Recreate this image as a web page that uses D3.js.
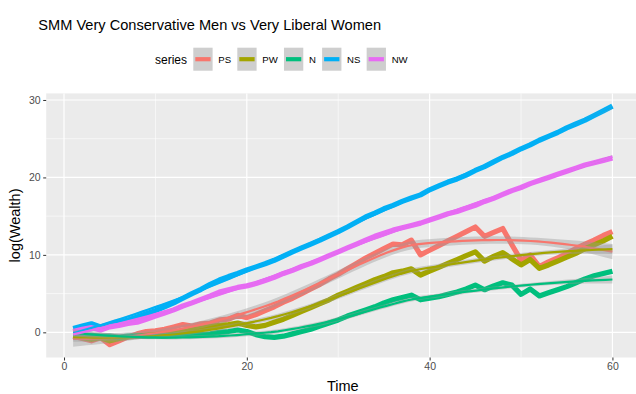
<!DOCTYPE html>
<html>
<head>
<meta charset="utf-8">
<script src="https://cdn.jsdelivr.net/npm/d3@7/dist/d3.min.js"></script>
<style>
  body { margin: 0; background: #ffffff; }
  svg { display: block; }
  text { font-family: "Liberation Sans", Arial, Helvetica, sans-serif; }
</style>
</head>
<body>
<svg id="chart" width="636" height="394"></svg>
<script>
// ---- data -------------------------------------------------------------
const time = d3.range(1, 61);
const seriesNames  = ["PS", "PW", "N", "NS", "NW"];
const seriesColors = ["#F8766D", "#A3A500", "#00BF7D", "#00B0F6", "#E76BF3"];

const PS = [-0.5, -0.8, -1.1, -0.7, -1.6, -1.1, -0.6, -0.2, 0.1, 0.2,
            0.4, 0.7, 1.0, 0.8, 1.1, 1.2, 1.6, 1.7, 2.2, 1.9,
            2.3, 2.8, 3.3, 3.9, 4.4, 5.0, 5.6, 6.2, 6.9, 7.5,
            8.2, 8.9, 9.6, 10.2, 10.8, 11.4, 11.3, 11.9, 10.0, 10.6,
            11.2, 11.8, 12.4, 13.0, 13.6, 12.4, 12.9, 13.4, 11.3, 9.3,
            10.0, 8.5, 9.1, 9.6, 10.2, 10.8, 11.4, 11.9, 12.5, 13.0];

const PW = [-0.6, -0.7, -0.9, -0.7, -1.1, -0.8, -0.6, -0.5, -0.4, -0.3,
            -0.2, -0.1, 0.1, 0.3, 0.5, 0.7, 0.9, 1.0, 1.2, 0.9,
            0.7, 0.9, 1.3, 1.7, 2.2, 2.7, 3.2, 3.7, 4.2, 4.8,
            5.3, 5.8, 6.3, 6.8, 7.2, 7.7, 7.9, 8.2, 7.4, 7.9,
            8.4, 8.9, 9.4, 9.9, 10.4, 9.2, 9.8, 10.3, 9.5, 8.7,
            9.4, 8.25, 8.7, 9.2, 9.7, 10.2, 10.8, 11.3, 11.8, 12.4];

const N  = [-0.3, -0.4, -0.4, -0.5, -0.5, -0.6, -0.5, -0.5, -0.5, -0.5,
            -0.5, -0.4, -0.4, -0.3, -0.3, -0.2, 0.0, 0.1, 0.3, 0.1,
            -0.3, -0.55, -0.65, -0.5, -0.2, 0.1, 0.4, 0.8, 1.2, 1.6,
            2.1, 2.5, 2.9, 3.3, 3.8, 4.2, 4.5, 4.8, 4.2, 4.4,
            4.6, 4.9, 5.2, 5.6, 6.1, 5.5, 6.0, 6.4, 6.1, 4.9,
            5.6, 4.7, 5.1, 5.5, 5.9, 6.4, 6.9, 7.3, 7.6, 7.9];

const NS = [0.5, 0.8, 1.1, 0.7, 1.0, 1.3, 1.6, 2.0, 2.4, 2.8,
            3.3, 3.8, 4.4, 5.0, 5.55, 6.2, 6.75, 7.2, 7.6, 8.05,
            8.45, 8.85, 9.3, 9.85, 10.4, 10.9, 11.4, 11.9, 12.45, 13.0,
            13.6, 14.25, 14.9, 15.4, 15.95, 16.4, 16.9, 17.35, 17.75, 18.4,
            18.9, 19.4, 19.8, 20.3, 20.9, 21.4, 22.0, 22.6, 23.1, 23.7,
            24.2, 24.8, 25.3, 25.8, 26.4, 26.9, 27.4, 28.0, 28.6, 29.2];

const NW = [0.1, 0.4, 0.6, 0.3, 0.7, 0.9, 1.15, 1.3, 1.7, 2.1,
            2.5, 2.9, 3.4, 3.8, 4.25, 4.7, 5.2, 5.5, 5.8, 6.0,
            6.3, 6.7, 7.1, 7.6, 8.0, 8.5, 8.9, 9.4, 9.9, 10.4,
            10.9, 11.4, 11.9, 12.4, 12.8, 13.2, 13.5, 13.8, 14.1, 14.5,
            14.9, 15.3, 15.6, 16.0, 16.4, 16.9, 17.3, 17.8, 18.3, 18.7,
            19.2, 19.6, 20.0, 20.4, 20.8, 21.2, 21.6, 21.9, 22.2, 22.5];

const seriesValues = [PS, PW, N, NS, NW];

const xTicks = [0, 20, 40, 60];
const xMinor = [10, 30, 50];
const yTicks = [0, 10, 20, 30];
const yMinor = [5, 15, 25];

const titleText = "SMM Very Conservative Men vs Very Liberal Women";

// ---- local quadratic regression (loess, span 0.75) with standard errors ----
function invert3(m) {
  const [a, b, c] = m[0], [d, e, f] = m[1], [g, h, i] = m[2];
  const A = e * i - f * h, B = -(d * i - f * g), C = d * h - e * g;
  const det = a * A + b * B + c * C;
  return [
    [A / det, -(b * i - c * h) / det, (b * f - c * e) / det],
    [B / det, (a * i - c * g) / det, -(a * f - c * d) / det],
    [C / det, -(a * h - b * g) / det, (a * e - b * d) / det]
  ];
}

function smootherRow(xs, x0, span) {
  const n = xs.length, q = Math.floor(n * span);
  const d = xs.map(x => Math.abs(x - x0));
  const sorted = d.slice().sort((p, r) => p - r);
  const h = q < n ? (sorted[q - 1] + sorted[q]) / 2 : sorted[n - 1];
  const w = d.map(v => { const u = v / h; return u < 1 ? Math.pow(1 - u * u * u, 3) : 0; });
  const S = [[0, 0, 0], [0, 0, 0], [0, 0, 0]];
  xs.forEach((x, k) => {
    const dx = x - x0, b = [1, dx, dx * dx];
    for (let r = 0; r < 3; r++) for (let c = 0; c < 3; c++) S[r][c] += w[k] * b[r] * b[c];
  });
  const a = invert3(S)[0];
  return xs.map((x, k) => { const dx = x - x0; return w[k] * (a[0] + a[1] * dx + a[2] * dx * dx); });
}

function loessBand(xs, ys, span, evalXs) {
  const n = xs.length;
  const L = xs.map(x0 => smootherRow(xs, x0, span));
  let rss = 0, delta1 = 0;
  for (let i = 0; i < n; i++) {
    const fit = d3.sum(L[i], (l, j) => l * ys[j]);
    rss += (ys[i] - fit) ** 2;
  }
  for (let i = 0; i < n; i++) for (let j = 0; j < n; j++) {
    const m = (i === j ? 1 : 0) - L[i][j];
    delta1 += m * m;
  }
  const s = Math.sqrt(rss / delta1);
  const tq = 2.004;
  return evalXs.map(x0 => {
    const l = smootherRow(xs, x0, span);
    const fit = d3.sum(l, (v, j) => v * ys[j]);
    const se = s * Math.sqrt(d3.sum(l, v => v * v));
    return { x: x0, y: fit, lo: fit - tq * se, hi: fit + tq * se };
  });
}

// ---- layout ----------------------------------------------------------
const svg = d3.select("#chart");
const x = d3.scaleLinear().domain([-1.95, 62.95]).range([46.2, 639.4]);
const y = d3.scaleLinear().domain([-3.25, 30.85]).range([357.5, 93.4]);
const [px0, px1] = x.range();
const [py1, py0] = y.range();

// panel background
svg.append("rect")
  .attr("x", px0).attr("y", py0)
  .attr("width", px1 - px0).attr("height", py1 - py0)
  .attr("fill", "#EBEBEB");

// grid
const grid = svg.append("g");
grid.selectAll(".ymin").data(yMinor).join("line")
  .attr("x1", px0).attr("x2", px1).attr("y1", d => y(d)).attr("y2", d => y(d))
  .attr("stroke", "#ffffff").attr("stroke-width", 0.6);
grid.selectAll(".xmin").data(xMinor).join("line")
  .attr("y1", py0).attr("y2", py1).attr("x1", d => x(d)).attr("x2", d => x(d))
  .attr("stroke", "#ffffff").attr("stroke-width", 0.6);
grid.selectAll(".ymaj").data(yTicks).join("line")
  .attr("x1", px0).attr("x2", px1).attr("y1", d => y(d)).attr("y2", d => y(d))
  .attr("stroke", "#ffffff").attr("stroke-width", 1.2);
grid.selectAll(".xmaj").data(xTicks).join("line")
  .attr("y1", py0).attr("y2", py1).attr("x1", d => x(d)).attr("x2", d => x(d))
  .attr("stroke", "#ffffff").attr("stroke-width", 1.2);

// axes
const xAxis = d3.axisBottom(x).tickValues(xTicks).tickSize(3).tickPadding(2);
const gx = svg.append("g").attr("transform", `translate(0,${py1})`).call(xAxis);
gx.select(".domain").remove();
gx.selectAll(".tick line").attr("stroke", "#333333");
gx.selectAll(".tick text").attr("fill", "#4D4D4D").attr("font-size", "10.5px")
  .attr("font-family", "Liberation Sans, Arial, sans-serif");

const yAxis = d3.axisLeft(y).tickValues(yTicks).tickSize(3).tickPadding(2.5);
const gy = svg.append("g").attr("transform", `translate(${px0},0)`).call(yAxis);
gy.select(".domain").remove();
gy.selectAll(".tick line").attr("stroke", "#333333");
gy.selectAll(".tick text").attr("fill", "#4D4D4D").attr("font-size", "10.5px")
  .attr("font-family", "Liberation Sans, Arial, sans-serif");

// series lines
const line = d3.line().x((d, i) => x(time[i])).y(d => y(d)).curve(d3.curveLinear);
const plot = svg.append("g");
seriesValues.forEach((vals, k) => {
  plot.append("path")
    .attr("d", line(vals))
    .attr("fill", "none")
    .attr("stroke", seriesColors[k])
    .attr("stroke-width", 5.2)
    .attr("stroke-linejoin", "round")
    .attr("stroke-linecap", "butt");
});

// smoothed trends with confidence ribbons
const evalX = d3.range(80).map(i => 1 + i * (59 / 79));
seriesValues.forEach((vals, k) => {
  const band = loessBand(time, vals, 0.75, evalX);
  plot.append("path")
    .attr("d", d3.area().x(d => x(d.x)).y0(d => y(d.lo)).y1(d => y(d.hi))(band))
    .attr("fill", "#999999").attr("fill-opacity", 0.4);
  plot.append("path")
    .attr("d", d3.line().x(d => x(d.x)).y(d => y(d.y))(band))
    .attr("fill", "none")
    .attr("stroke", seriesColors[k])
    .attr("stroke-width", 2.2);
});

// axis titles
svg.append("text")
  .attr("x", (px0 + px1) / 2).attr("y", 390.5)
  .attr("text-anchor", "middle").attr("font-size", "14.5px").attr("fill", "#000")
  .text("Time");
svg.append("text")
  .attr("transform", `translate(20,${(py0 + py1) / 2}) rotate(-90)`)
  .attr("text-anchor", "middle").attr("font-size", "14.5px").attr("fill", "#000")
  .text("log(Wealth)");

// title
svg.append("text")
  .attr("x", 38.3).attr("y", 29.5)
  .attr("font-size", "14.6px").attr("fill", "#000")
  .text(titleText);

// legend
const legend = svg.append("g");
legend.append("text")
  .attr("x", 155).attr("y", 64)
  .attr("font-size", "12px").attr("fill", "#000")
  .text("series");
let cursor = 193.3;
const keyW = 19.3, keyTop = 47.7, keyH = 23;
seriesNames.forEach((name, k) => {
  legend.append("rect")
    .attr("x", cursor).attr("y", keyTop).attr("width", keyW).attr("height", keyH)
    .attr("fill", "#CECECE");
  legend.append("line")
    .attr("x1", cursor + 2).attr("x2", cursor + keyW - 2)
    .attr("y1", keyTop + keyH / 2).attr("y2", keyTop + keyH / 2)
    .attr("stroke", seriesColors[k]).attr("stroke-width", 4.2);
  const t = legend.append("text")
    .attr("x", cursor + 25).attr("y", keyTop + keyH / 2 + 3.5)
    .attr("font-size", "9.6px").attr("fill", "#000")
    .text(name);
  cursor = cursor + 25 + t.node().getComputedTextLength() + 6.2;
});
</script>
</body>
</html>
